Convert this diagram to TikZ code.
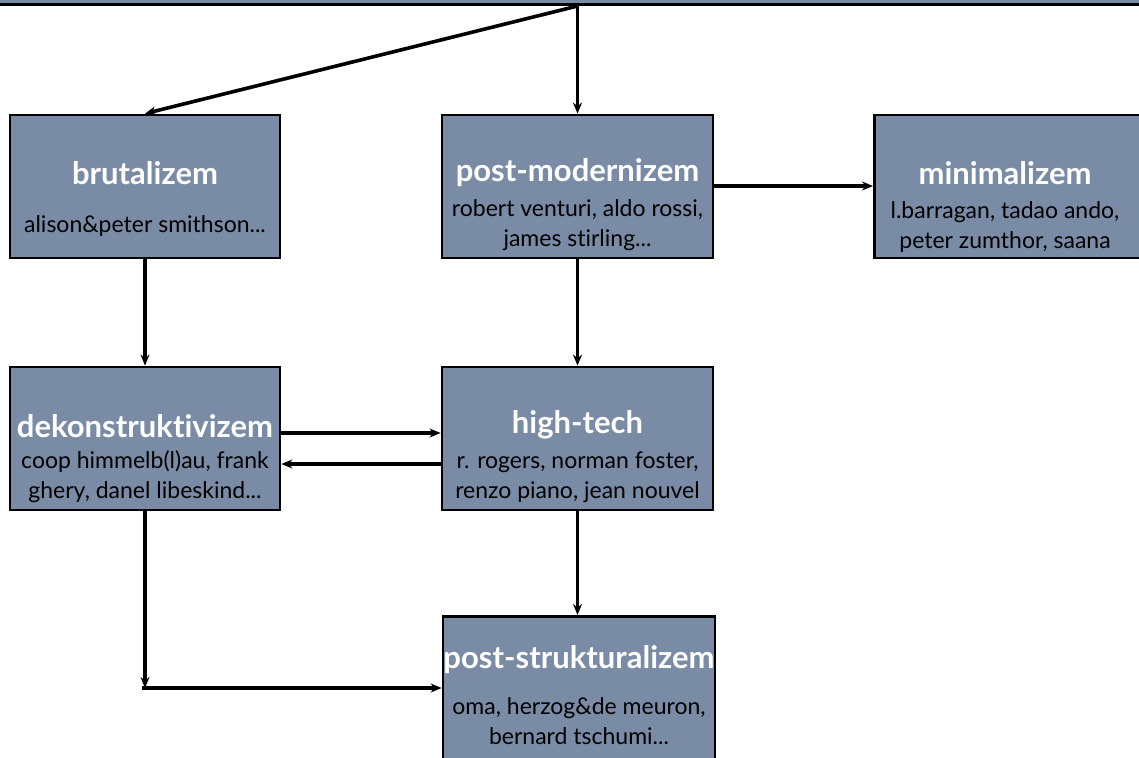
\documentclass[tikz,border=0pt]{standalone}
\usepackage{fontspec}
\setmainfont{Lato}[Ligatures=NoCommon]
\usetikzlibrary{arrows.meta}
\definecolor{boxfill}{HTML}{7A8BA6}
\tikzset{
  box/.style={draw=black, line width=2.8pt, fill=boxfill, inner sep=0pt},
  ttl/.style={text=white, font=\fontsize{31}{34}\selectfont\bfseries, inner sep=0pt},
  sub/.style={text=black, font=\fontsize{23}{30}\selectfont, inner sep=0pt, align=center},
  arr/.style={draw=black, line width=3.2pt, -{Stealth[length=11pt,width=9pt]}},
}
\begin{document}
\begin{tikzpicture}[x=1pt,y=-1pt]
\useasboundingbox (0,0) rectangle (1139,757);
\clip (0,0) rectangle (1139,757);
% top box
\node[box, minimum width=1160pt, minimum height=60pt, anchor=south] (top) at (569.5,6) {};
% boxes
\node[box, minimum width=270pt, minimum height=143pt] (br) at (145,186.5) {};
\node[box, minimum width=271pt, minimum height=143pt] (pm) at (577.5,186.5) {};
\node[box, minimum width=290pt, minimum height=143pt, anchor=west] (mn) at (873,186.5) {};
\node[box, minimum width=270pt, minimum height=143pt] (dk) at (145,438.5) {};
\node[box, minimum width=271pt, minimum height=143pt] (ht) at (577.5,438.5) {};
\node[box, minimum width=272pt, minimum height=170pt, anchor=north] (ps) at (579,615) {};
% texts
\node[ttl] (brT) at (145,173) {brutalizem};
\node[sub] (brS) at (145,226) {alison\&peter smithson...};
\node[ttl] (pmT) at (577.5,173) {post-modernizem};
\node[sub] (pmS) at (577.5,225) {robert venturi, aldo rossi,\\james stirling...};
\node[ttl] (mnT) at (1005,173) {minimalizem};
\node[sub] (mnS) at (1005,227) {l.barragan, tadao ando,\\peter zumthor, saana};
\node[ttl] (dkT) at (145,426) {dekonstruktivizem};
\node[sub] (dkS) at (145,477) {coop himmelb(l)au, frank\\ghery, danel libeskind...};
\node[ttl] (htT) at (577.5,425) {high-tech};
\node[sub] (htS) at (577.5,477) {r. rogers, norman foster,\\renzo piano, jean nouvel};
\node[ttl] (psT) at (579,660) {post-strukturalizem};
\node[sub] (psS) at (579,721) {oma, herzog\&de meuron,\\bernard tschumi...};
% connectors
\coordinate (src) at (top.south -| pm.north);
\coordinate (corner) at (145,688);
\draw[arr, line width=3.6pt] (src) -- (br.north);
\draw[arr, line width=2.2pt] (src) -- (pm.north);
\draw[arr] (pm.east |- 0,186) -- (mn.west |- 0,186);
\draw[arr] (br.south) -- (dk.north);
\draw[arr] (pm.south) -- (ht.north);
\draw[arr] ([yshift=5.5pt]dk.east) -- ([yshift=5.5pt]ht.west);
\draw[arr] ([yshift=-25.5pt]ht.west) -- ([yshift=-25.5pt]dk.east);
\draw[arr] (ht.south) -- (ht.south |- ps.north);
\draw[arr] (dk.south) -- (corner);
\draw[arr] ([xshift=-3pt]corner) -- (ps.west |- corner);
\end{tikzpicture}
\end{document}
